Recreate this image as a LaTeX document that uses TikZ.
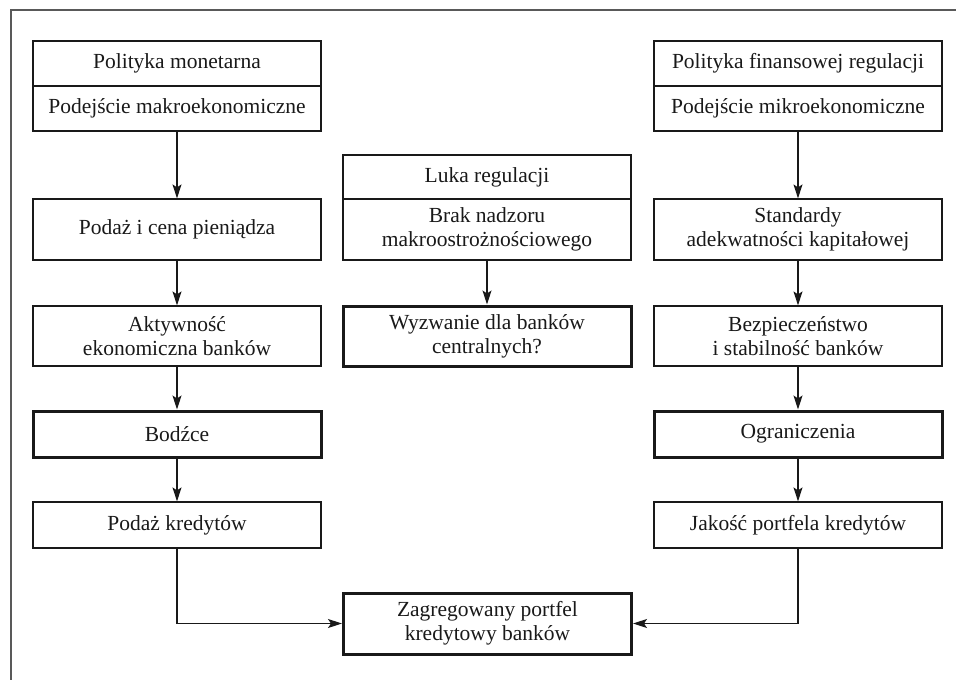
\documentclass[tikz,border=0pt]{standalone}
\usepackage{fontspec}
\setmainfont{Liberation Serif}
\usetikzlibrary{arrows.meta}
\newcommand\myfs{\fontsize{21.5}{24}\selectfont}
\begin{document}
\begin{tikzpicture}[x=1pt,y=-1pt,
  box/.style={draw=black!90, line width=1.2pt, minimum width=288pt, inner sep=0pt, align=center, font=\myfs, text=black!90},
  bbox/.style={box, line width=3pt},
  arr/.style={draw=black!90, line width=1.2pt, -{Stealth[length=14pt,width=9pt,inset=3pt]}}]
\useasboundingbox (0,0) rectangle (956,680);
\draw[black!65, line width=1.6pt] (11,680) -- (11,10) -- (956,10);
% left column
\node[box, minimum height=45pt] (lt1) at (177,63.5) {Polityka monetarna};
\node[box, minimum height=45pt] (lt2) at (177,108.5) {Podejście makroekonomiczne};
\node[box, minimum height=61pt] (l2) at (177,229.5) {Podaż i cena pieniądza};
\node[box, minimum height=60pt] (l3) at (177,336) {Aktywność\\ekonomiczna banków};
\node[bbox, minimum height=46pt] (l4) at (177,434) {Bodźce};
\node[box, minimum height=46pt] (l5) at (177,525) {Podaż kredytów};
% middle column
\node[box, minimum height=44pt] (m1) at (487,177) {Luka regulacji};
\node[box, minimum height=61pt] (m2) at (487,229.5) {Brak nadzoru\\makroostrożnościowego};
\node[bbox, minimum height=60pt] (m3) at (487,336) {Wyzwanie dla banków\\centralnych?};
\node[bbox, minimum height=61pt] (m4) at (487.5,623.5) {Zagregowany portfel\\kredytowy banków};
% right column
\node[box, minimum height=45pt] (rt1) at (798,63.5) {Polityka finansowej regulacji};
\node[box, minimum height=45pt] (rt2) at (798,108.5) {Podejście mikroekonomiczne};
\node[box, minimum height=61pt] (r2) at (798,229.5) {Standardy\\adekwatności kapitałowej};
\node[box, minimum height=60pt] (r3) at (798,336) {Bezpieczeństwo\\i stabilność banków};
\node[bbox, minimum height=46pt] (r4) at (798,434) {Ograniczenia};
\node[box, minimum height=46pt] (r5) at (798,525) {Jakość portfela kredytów};
% arrows
\draw[arr] (lt2.south) -- (l2.north);
\draw[arr] (l2.south) -- (l3.north);
\draw[arr] (l3.south) -- (l4.north);
\draw[arr] (l4.south) -- (l5.north);
\draw[arr] (l5.south) |- (m4.west);
\draw[arr] (m2.south) -- (m3.north);
\draw[arr] (rt2.south) -- (r2.north);
\draw[arr] (r2.south) -- (r3.north);
\draw[arr] (r3.south) -- (r4.north);
\draw[arr] (r4.south) -- (r5.north);
\draw[arr] (r5.south) |- (m4.east);
\end{tikzpicture}
\end{document}
